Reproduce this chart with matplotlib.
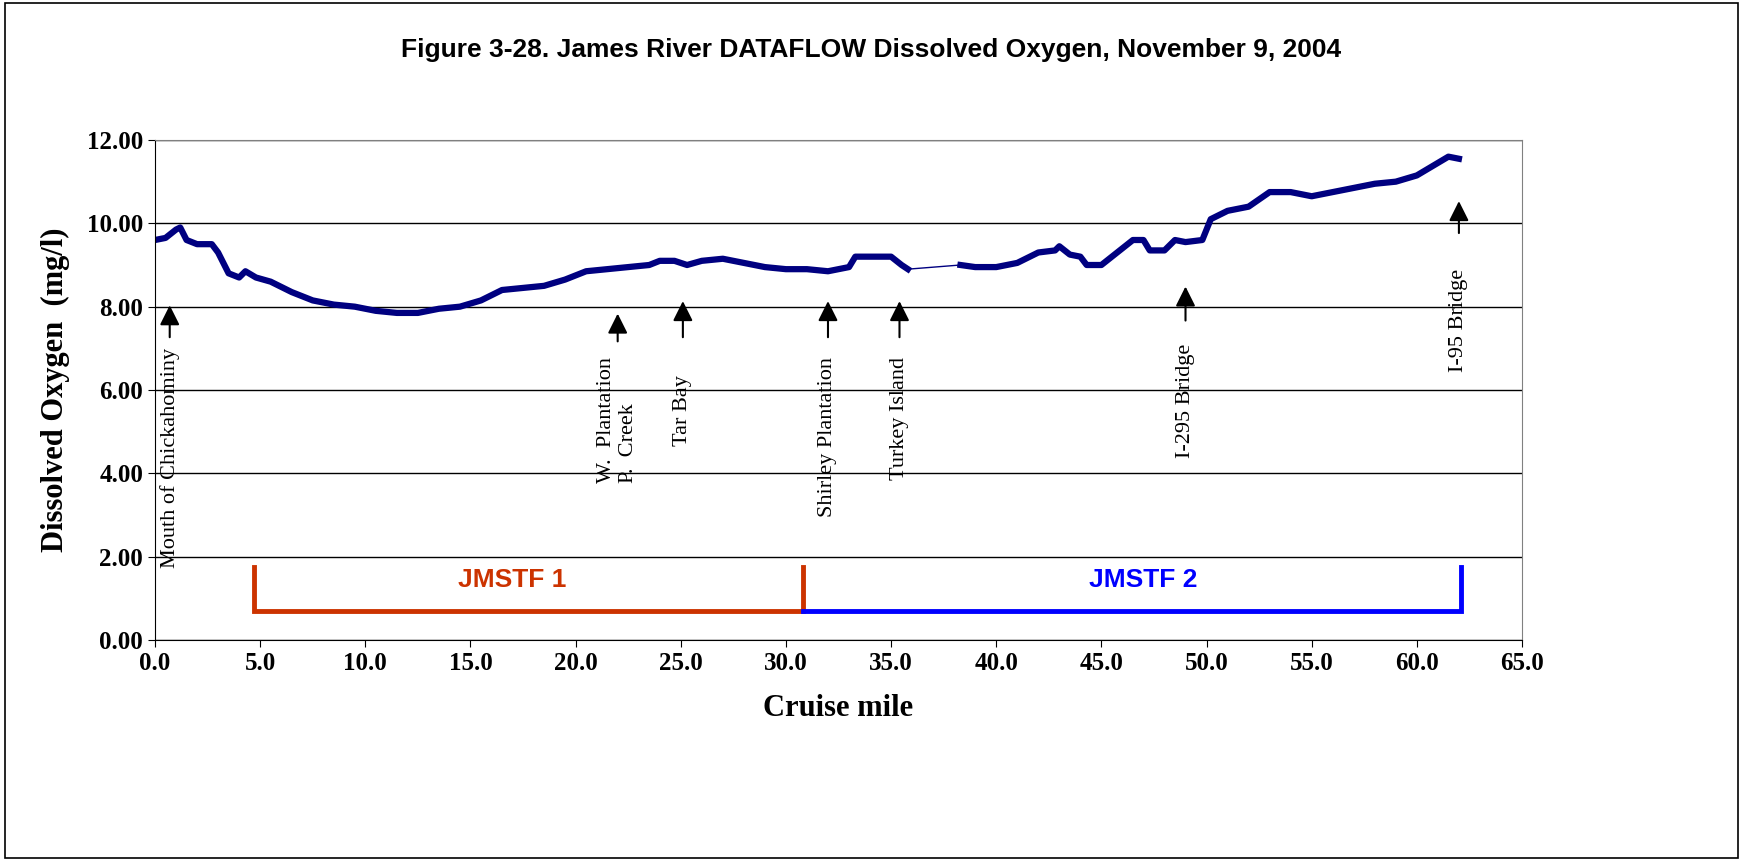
import numpy as np
import matplotlib.pyplot as plt
from matplotlib.patches import Rectangle

# DO trace (cruise mile, mg/l)
mile_a = [0, 0.5, 1.0, 1.2, 1.5, 2.0, 2.7, 3.0, 3.5, 4.0, 4.3, 4.8, 5.5, 6.5, 7.5, 8.5, 9.5,
          10.5, 11.5, 12.5, 13.5, 14.5, 15.5, 16.5, 17.5, 18.5, 19.5, 20.5, 21.5, 22.5, 23.5,
          24.0, 24.7, 25.3, 26, 27, 28, 29, 30, 31, 32, 33, 33.3, 34.5, 35, 35.5, 35.8]
do_a = [9.6, 9.65, 9.85, 9.9, 9.6, 9.5, 9.5, 9.3, 8.8, 8.7, 8.85, 8.7, 8.6, 8.35, 8.15, 8.05, 8.0,
        7.9, 7.85, 7.85, 7.95, 8.0, 8.15, 8.4, 8.45, 8.5, 8.65, 8.85, 8.9, 8.95, 9.0,
        9.1, 9.1, 9.0, 9.1, 9.15, 9.05, 8.95, 8.9, 8.9, 8.85, 8.95, 9.2, 9.2, 9.2, 9.0, 8.9]
mile_b = [38.3, 39, 40, 41, 42, 42.8, 43, 43.5, 44, 44.3, 45, 45.5, 46.5, 47, 47.3, 48, 48.5,
          49, 49.8, 50.2, 51, 52, 53, 54, 55, 56, 57, 58, 59, 60, 61, 61.5, 62]
do_b = [9.0, 8.95, 8.95, 9.05, 9.3, 9.35, 9.45, 9.25, 9.2, 9.0, 9.0, 9.2, 9.6, 9.6, 9.35, 9.35, 9.6,
        9.55, 9.6, 10.1, 10.3, 10.4, 10.75, 10.75, 10.65, 10.75, 10.85, 10.95, 11.0, 11.15, 11.45, 11.6, 11.55]

# landmarks: label, mile, arrow bottom, arrow top, text top
marks = [("Mouth of Chickahominy", 0.7, 7.2, 8.1, 7.0),
         ("W.  Plantation\nP.  Creek", 22.0, 7.1, 7.9, 6.8),
         ("Tar Bay", 25.1, 7.2, 8.2, 6.35),
         ("Shirley Plantation", 32.0, 7.2, 8.2, 6.8),
         ("Turkey Island", 35.4, 7.2, 8.2, 6.8),
         ("I-295 Bridge", 49.0, 7.6, 8.55, 7.1),
         ("I-95 Bridge", 62.0, 9.7, 10.6, 8.9)]

serif = "Liberation Serif"
fig = plt.figure(figsize=(17.43, 8.61), dpi=100)
fig.patches.append(Rectangle((0.003, 0.003), 0.994, 0.994, transform=fig.transFigure,
                             fill=False, edgecolor="black", lw=1.2))
ax = fig.add_axes([155 / 1743, 1 - 640 / 861, 1367 / 1743, 500 / 861])

ax.plot(mile_a, do_a, color="#000080", lw=4.5)
ax.plot([mile_a[-1], mile_b[0]], [do_a[-1], do_b[0]], color="#000080", lw=1)
ax.plot(mile_b, do_b, color="#000080", lw=4.5)

for lab, x, y0, y1, yt in marks:
    ax.annotate("", xy=(x, y1), xytext=(x, y0),
                arrowprops=dict(arrowstyle="-|>", color="black", lw=1.5, mutation_scale=30))
    ax.text(x, yt, lab, rotation=90, ha="center", va="top", family=serif, fontsize=16,
            multialignment="left")

red = "#CC3300"
blue = "#0000FF"
ax.plot([4.7, 4.7, 30.8, 30.8], [1.75, 0.7, 0.7, 1.75], color=red, lw=3.5, solid_joinstyle="miter")
ax.plot([30.8, 62.1, 62.1], [0.7, 0.7, 1.75], color=blue, lw=3.5, solid_joinstyle="miter")
ax.text(17, 1.45, "JMSTF 1", color=red, ha="center", va="center", fontsize=19,
        fontweight="bold", family="Liberation Sans")
ax.text(47, 1.45, "JMSTF 2", color=blue, ha="center", va="center", fontsize=19,
        fontweight="bold", family="Liberation Sans")

ax.set_xlim(0, 65)
ax.set_ylim(0, 12)
ax.set_xticks(np.arange(0, 65.1, 5))
ax.set_xticklabels([f"{v:.1f}" for v in np.arange(0, 65.1, 5)])
ax.set_yticks(np.arange(0, 12.1, 2))
ax.set_yticklabels([f"{v:.2f}" for v in np.arange(0, 12.1, 2)])
ax.yaxis.grid(True, color="black", lw=1)
ax.set_axisbelow(True)
for lab in ax.get_xticklabels() + ax.get_yticklabels():
    lab.set_family(serif)
    lab.set_fontweight("bold")
    lab.set_fontsize(18)
ax.tick_params(direction="out", length=5)
for s in ["top", "right"]:
    ax.spines[s].set_color("#808080")
ax.set_xlabel("Cruise mile", family=serif, fontsize=22, fontweight="bold", labelpad=14)
ax.set_ylabel("Dissolved Oxygen  (mg/l)", family=serif, fontsize=22, fontweight="bold", labelpad=12)
fig.text(0.5, 1 - 50 / 861, "Figure 3-28. James River DATAFLOW Dissolved Oxygen, November 9, 2004",
         ha="center", va="center", fontsize=19, fontweight="bold", family="Liberation Sans")

fig.savefig("out.png", dpi=100)
